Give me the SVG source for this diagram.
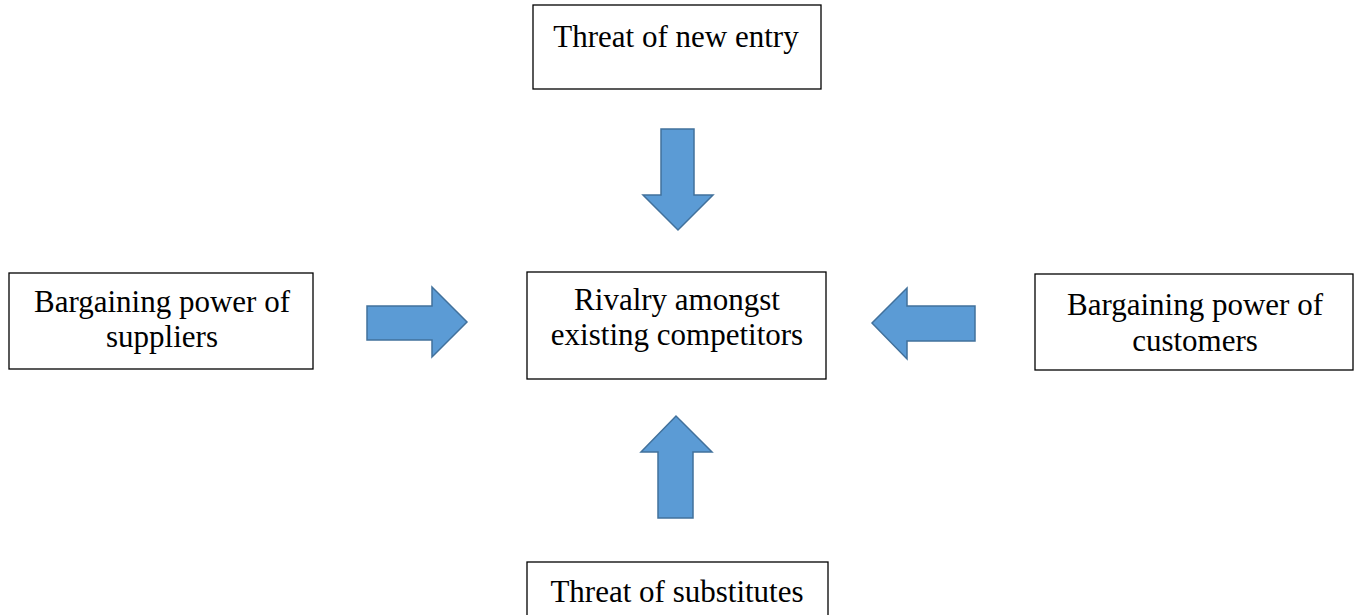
<svg xmlns="http://www.w3.org/2000/svg" width="1362" height="615" viewBox="0 0 1362 615">
<style>
.box{fill:#fff;stroke:#000;stroke-width:1.3}
.lbl{font-family:"Liberation Serif","Times New Roman",serif;font-size:31px;fill:#000;text-anchor:middle}
.arr{fill:#5B9BD5;stroke:#41719C;stroke-width:1.5;stroke-linejoin:miter}
</style>
<rect width="1362" height="615" fill="#fff"/>
<g id="node-new-entry">
<rect class="box" x="533" y="5" width="288" height="84"/>
<text class="lbl" x="676" y="47">Threat of new entry</text>
</g>
<g id="node-suppliers">
<rect class="box" x="9" y="273" width="304" height="96"/>
<text class="lbl" x="162" y="312">Bargaining power of</text>
<text class="lbl" x="162" y="347">suppliers</text>
</g>
<g id="node-rivalry">
<rect class="box" x="527" y="272" width="299" height="107"/>
<text class="lbl" x="677" y="310">Rivalry amongst</text>
<text class="lbl" x="677" y="345">existing competitors</text>
</g>
<g id="node-customers">
<rect class="box" x="1035" y="274" width="318" height="96"/>
<text class="lbl" x="1195" y="315">Bargaining power of</text>
<text class="lbl" x="1195" y="351">customers</text>
</g>
<g id="node-substitutes">
<rect class="box" x="527" y="562" width="301" height="70"/>
<text class="lbl" x="677" y="602">Threat of substitutes</text>
</g>
<g id="connectors">
<polygon class="arr" points="661,129 694,129 694,195 713,195 678,230 643,195 661,195"/>
<polygon class="arr" points="367,306 432,306 432,287 467,322 432,357 432,340 367,340"/>
<polygon class="arr" points="975,306 907,306 907,288 872,323 907,359 907,341 975,341"/>
<polygon class="arr" points="658,518 693,518 693,452 712,452 676,416 641,452 658,452"/>
</g>
</svg>
